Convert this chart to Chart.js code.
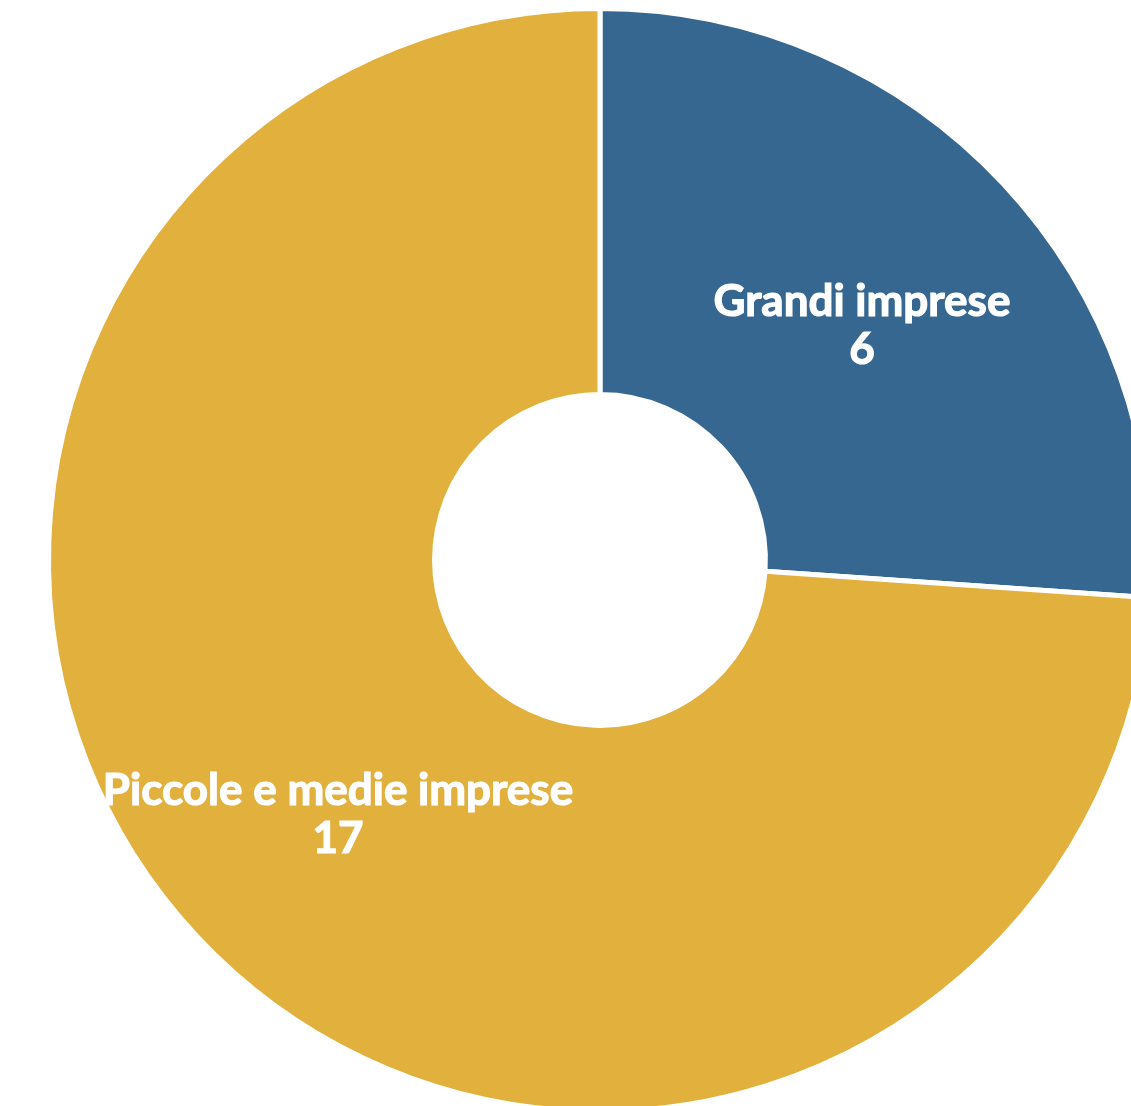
<!DOCTYPE html>
<html>
<head>
<meta charset="utf-8">
<script src="https://cdn.jsdelivr.net/npm/chart.js@4"></script>
<style>
  html, body { margin: 0; padding: 0; background: #fff; overflow: hidden; }
  #wrap { position: absolute; left: 0; top: 0; width: 1200px; height: 1120px; }
</style>
</head>
<body>
<div id="wrap"><canvas id="chart" width="1200" height="1120"></canvas></div>
<script>
// dati del grafico
const categories = ['Grandi imprese', 'Piccole e medie imprese'];
const values = [6, 17];
const colors = ['#366790', '#E2B03C'];

// etichette bianche al centro di ogni fetta
const sliceLabels = {
    id: 'sliceLabels',
    afterDatasetsDraw(chart) {
        const ctx = chart.ctx;
        const meta = chart.getDatasetMeta(0);
        ctx.save();
        ctx.fillStyle = '#ffffff';
        ctx.strokeStyle = '#ffffff';
        ctx.lineWidth = 1.2;
        ctx.font = 'bold 44px Lato, "Open Sans", sans-serif';
        ctx.textAlign = 'center';
        ctx.textBaseline = 'middle';
        meta.data.forEach((arc, i) => {
            const p = arc.getCenterPoint();
            ctx.fillText(categories[i], p.x, p.y - 14);
            ctx.strokeText(categories[i], p.x, p.y - 14);
            ctx.fillText(String(values[i]), p.x, p.y + 34);
            ctx.strokeText(String(values[i]), p.x, p.y + 34);
        });
        ctx.restore();
    }
};

const ctx = document.getElementById('chart').getContext('2d');
new Chart(ctx, {
    type: 'doughnut',
    data: {
        labels: categories,
        datasets: [{
            data: values,
            backgroundColor: colors,
            borderColor: '#ffffff',
            borderWidth: 5
        }]
    },
    options: {
        responsive: false,
        animation: false,
        cutout: '30%',
        layout: { padding: { top: 6, bottom: 6 } },
        plugins: {
            legend: { display: false },
            tooltip: { enabled: false }
        }
    },
    plugins: [sliceLabels]
});
</script>
</body>
</html>
